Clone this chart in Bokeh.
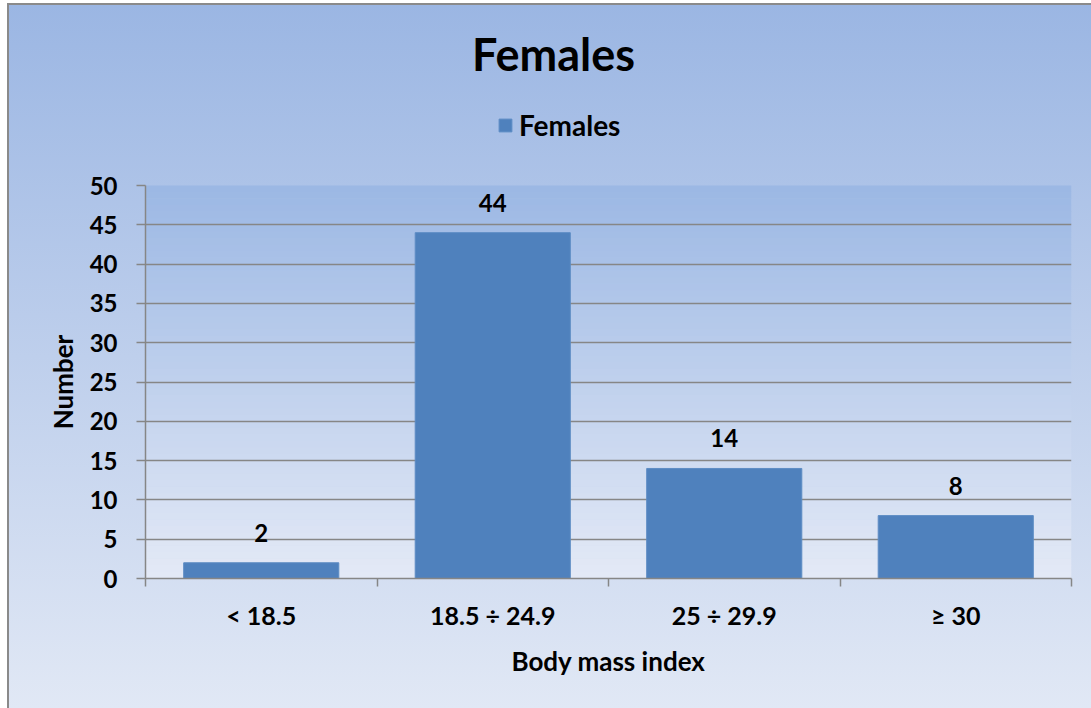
from bokeh.plotting import figure
from bokeh.layouts import column
from bokeh.models import (Range1d, FixedTicker, Legend, LegendItem, BoxAnnotation,
                          ColumnDataSource, Label)
from bokeh.embed import file_html
from bokeh.resources import INLINE
from bokeh.core.properties import value

# ---- data ----
categories = ["< 18.5", "18.5 ÷ 24.9", "25 ÷ 29.9", "≥ 30"]
counts = [2, 44, 14, 8]
series_name = "Females"
chart_title = "Females"
x_title = "Body mass index"
y_title = "Number"
y_ticks = [0, 5, 10, 15, 20, 25, 30, 35, 40, 45, 50]

FONT = "Lato"
BAR = "#4f81bd"
W = 1082
HEAD_H = 160
MAIN_H = 543
BL, BR = 136, 20

xc = [i + 0.5 for i in range(len(categories))]
src = ColumnDataSource(dict(x=xc, top=counts, label=[str(c) for c in counts]))

# ---------------- header (title + legend) ----------------
head = figure(width=W, height=HEAD_H, output_backend="svg", toolbar_location=None,
              x_range=Range1d(BL, W - BR), y_range=Range1d(0, HEAD_H),
              min_border=0, min_border_left=BL, min_border_right=BR)
head.axis.visible = False
head.grid.visible = False
head.outline_line_color = None
head.border_fill_alpha = 0
head.background_fill_alpha = 0

head.add_layout(Label(x=544, y=112, text=chart_title, text_align="center",
                      text_baseline="middle", text_font=FONT, text_font_size="45px",
                      text_font_style="bold", text_color="black"))
legend_proxy = head.vbar(x="x", top="top", width=0.67, source=src, fill_color=BAR,
                         line_color="#5d8cc4", visible=False)
legend = Legend(items=[LegendItem(label=series_name, renderers=[legend_proxy])],
                location=(352, 23), orientation="horizontal",
                background_fill_alpha=0, border_line_color=None,
                padding=0, margin=0, glyph_width=16, glyph_height=16,
                label_standoff=6, label_text_font=FONT,
                label_text_font_size="28px", label_text_font_style="bold",
                label_text_color="black")
head.add_layout(legend, "center")

# ---------------- main chart ----------------
p = figure(width=W, height=MAIN_H, output_backend="svg", toolbar_location=None,
           x_range=Range1d(0, len(categories)), y_range=Range1d(0, 50),
           min_border_left=BL, min_border_right=BR, min_border_top=20,
           min_border_bottom=130)
p.border_fill_alpha = 0
p.background_fill_alpha = 0
p.outline_line_color = None

# plot-area gradient (background decoration)
top_c = (0x9c, 0xb8, 0xe4)
bot_c = (0xe3, 0xe9, 0xf6)
nb = 60
for i in range(nb):
    t = i / (nb - 1)
    c = tuple(int(round(bot_c[k] + (top_c[k] - bot_c[k]) * t)) for k in range(3))
    p.add_layout(BoxAnnotation(bottom=50 * i / nb, top=50 * (i + 1) / nb + 0.05,
                               fill_color="#%02x%02x%02x" % c, fill_alpha=1,
                               line_color=None, level="image"))

r = p.vbar(x="x", top="top", width=0.67, source=src, fill_color=BAR,
           line_color="#5d8cc4", line_width=1)
p.text(x="x", y="top", text="label", source=src, text_align="center",
       text_baseline="bottom", y_offset=-21, text_font=value(FONT),
       text_font_size="24px", text_font_style="bold", text_color="black")

xa = p.xaxis[0]
xa.ticker = FixedTicker(ticks=xc, minor_ticks=list(range(len(categories) + 1)))
xa.major_label_overrides = {x: c for x, c in zip(xc, categories)}
xa.major_tick_out = 0
xa.major_tick_in = 0
xa.minor_tick_out = 8
xa.minor_tick_in = 0
xa.axis_label = x_title

ya = p.yaxis[0]
ya.ticker = FixedTicker(ticks=y_ticks)
ya.major_tick_out = 9
ya.major_tick_in = 0
ya.minor_tick_out = 0
ya.minor_tick_in = 0
ya.axis_label = y_title

for ax in (xa, ya):
    ax.axis_line_color = "#868686"
    ax.axis_line_width = 1.5
    ax.major_tick_line_color = "#868686"
    ax.major_tick_line_width = 1.5
    ax.minor_tick_line_color = "#868686"
    ax.minor_tick_line_width = 1.5
    ax.major_label_text_font = FONT
    ax.major_label_text_font_size = "25px"
    ax.major_label_text_font_style = "bold"
    ax.major_label_text_color = "black"
    ax.axis_label_text_font = FONT
    ax.axis_label_text_font_size = "26px"
    ax.axis_label_text_font_style = "bold"
    ax.axis_label_text_color = "black"
ya.major_label_text_font_size = "24px"
xa.major_label_standoff = 13
xa.axis_label_standoff = 12
ya.major_label_standoff = 19
ya.axis_label_standoff = 8

p.xgrid.grid_line_color = None
p.ygrid.ticker = FixedTicker(ticks=y_ticks)
p.ygrid.grid_line_color = "#868686"
p.ygrid.grid_line_width = 1.5

lay = column(head, p, spacing=0)
lay.styles = {"background": "linear-gradient(to bottom, #9bb6e3, #e1e8f5)",
              "margin-top": "3px", "margin-left": "7px",
              "border-left": "2px solid #8a8a8a", "border-top": "2px solid #8a8a8a"}

open("out.html", "w").write(file_html(lay, INLINE))
